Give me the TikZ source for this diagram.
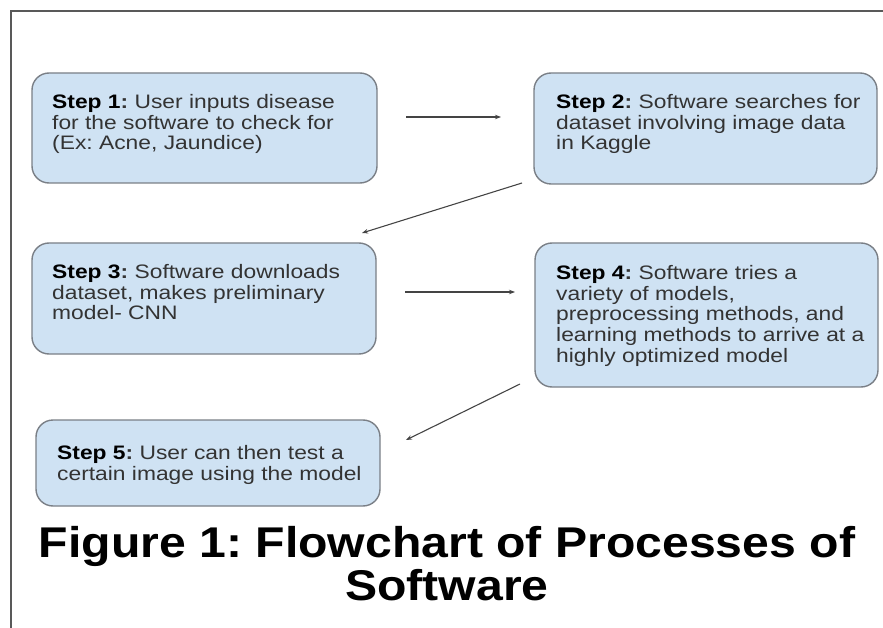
\documentclass[tikz,border=0pt]{standalone}
\usepackage{fontspec}
\setmainfont{Liberation Sans}
\newfontfamily\stepfont[FakeStretch=1.17]{Liberation Sans}
\newfontfamily\titlefont[FakeStretch=1.12]{Liberation Sans}
\frenchspacing
\usetikzlibrary{arrows.meta}
\definecolor{boxfill}{HTML}{CFE2F3}
\definecolor{boxline}{HTML}{7A7F86}
\definecolor{bodytext}{HTML}{333333}
\definecolor{arrowcol}{HTML}{444444}
\begin{document}
\begin{tikzpicture}[x=1pt,y=-1pt,
  stepbox/.style={draw=boxline,fill=boxfill,line width=1.4pt,rounded corners=17pt,inner sep=0pt},
  steptext/.style={anchor=north west,inner sep=0pt,align=left,text=bodytext,
    font=\stepfont\frenchspacing\fontsize{19.5}{20.7}\selectfont},
  flow/.style={draw=arrowcol,line width=1.1pt,-{Stealth[length=6pt,width=4.5pt]}},
  frameline/.style={draw=black!65,line width=2.4pt}]
\useasboundingbox (0,0) rectangle (883,628);
% frame
\coordinate (fa) at (11,628);
\coordinate (fb) at (11,11);
\coordinate (fc) at (883,11);
\draw[frameline] (fa) -- (fb) -- (fc);
% boxes
\node[stepbox,minimum width=345pt,minimum height=110pt] (b1) at (204.5,128) {};
\node[stepbox,minimum width=343pt,minimum height=111pt] (b2) at (705.5,128.5) {};
\node[stepbox,minimum width=344pt,minimum height=111pt] (b3) at (204,298.5) {};
\node[stepbox,minimum width=343pt,minimum height=144pt] (b4) at (706.5,315) {};
\node[stepbox,minimum width=344pt,minimum height=86pt] (b5) at (208,463) {};
% texts
\node[steptext] (t1) at (52,94) {\textbf{\color{black}Step 1\color{bodytext}:} User inputs disease\\for the software to check for\\(Ex: Acne, Jaundice)};
\node[steptext] (t2) at (556,94) {\textbf{\color{black}Step 2\color{bodytext}:} Software searches for\\dataset involving image data\\in Kaggle};
\node[steptext] (t3) at (52,264) {\textbf{\color{black}Step 3\color{bodytext}:} Software downloads\\dataset, makes preliminary\\model- CNN};
\node[steptext] (t4) at (556,265) {\textbf{\color{black}Step 4\color{bodytext}:} Software tries a\\variety of models,\\preprocessing methods, and\\learning methods to arrive at a\\highly optimized model};
\node[steptext] (t5) at (57,445) {\textbf{\color{black}Step 5\color{bodytext}:} User can then test a\\certain image using the model};
% arrows
\coordinate (a1s) at (406,117);
\coordinate (a1e) at (501,117);
\coordinate (a2s) at (522,183);
\coordinate (a2e) at (362,233);
\coordinate (a3s) at (405,292);
\coordinate (a3e) at (515,292);
\coordinate (a4s) at (520,384);
\coordinate (a4e) at (406,440);
\draw[flow] (a1s) -- (a1e);
\draw[flow] (a2s) -- (a2e);
\draw[flow] (a3s) -- (a3e);
\draw[flow] (a4s) -- (a4e);
% title
\node[align=center,font=\titlefont\frenchspacing\fontsize{43}{43}\selectfont\bfseries,text=black] (title) at (447,564) {Figure 1: Flowchart of Processes of\\Software};
\end{tikzpicture}
\end{document}
